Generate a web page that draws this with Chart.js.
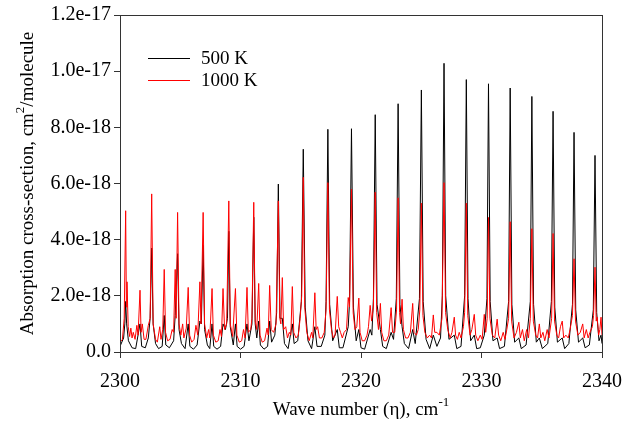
<!DOCTYPE html>
<html>
<head>
<meta charset="utf-8">
<script src="https://cdn.jsdelivr.net/npm/chart.js@4.4.1/dist/chart.umd.min.js"></script>
<style>
  html, body { margin: 0; padding: 0; background: #fff; }
  canvas { display: block; }
</style>
</head>
<body>
<canvas id="spectrum" width="634" height="425"></canvas>
<script>
// Values in units of 1e-18 cm2/molecule
const seriesNames = ["500 K", "1000 K"];
const seriesColors = ["#000000", "#ff0000"];
const xTicks = [2300, 2310, 2320, 2330, 2340];
const yTicks = [0, 2, 4, 6, 8, 10, 12];
const yTickLabels = ["0.0", "2.0e-18", "4.0e-18", "6.0e-18", "8.0e-18", "1.0e-17", "1.2e-17"];

// 500 K (black)
const wave500 = [
  2300.0, 2300.3, 2300.4, 2300.47, 2300.55, 2300.7, 2301.0, 2301.3, 2301.66, 2301.8,
  2302.1, 2302.35, 2302.5, 2302.63, 2302.75, 2302.95, 2303.2, 2303.5, 2303.67, 2303.8,
  2304.1, 2304.45, 2304.58, 2304.78, 2304.9, 2305.1, 2305.4, 2305.66, 2305.8, 2306.1,
  2306.4, 2306.63, 2306.75, 2306.9, 2307.02, 2307.25, 2307.45, 2307.64, 2307.78, 2308.05,
  2308.35, 2308.55, 2308.75, 2308.92, 2309.03, 2309.15, 2309.4, 2309.58, 2309.72, 2310.0,
  2310.3, 2310.54, 2310.7, 2310.95, 2311.1, 2311.22, 2311.35, 2311.51, 2311.65, 2311.95,
  2312.25, 2312.42, 2312.58, 2312.85, 2313.0, 2313.14, 2313.28, 2313.47, 2313.65, 2313.95,
  2314.3, 2314.45, 2314.75, 2315.05, 2315.21, 2315.37, 2315.6, 2315.9, 2316.17, 2316.35,
  2316.7, 2317.0, 2317.1, 2317.25, 2317.4, 2317.65, 2318.03, 2318.2, 2318.5, 2318.94,
  2319.05, 2319.21, 2319.37, 2319.6, 2319.82, 2320.0, 2320.3, 2320.76, 2320.9, 2321.03,
  2321.18, 2321.33, 2321.61, 2321.8, 2322.1, 2322.5, 2322.7, 2322.93, 2323.08, 2323.23,
  2323.41, 2323.6, 2323.95, 2324.29, 2324.5, 2324.85, 2325.01, 2325.16, 2325.4, 2325.7,
  2326.0, 2326.3, 2326.6, 2326.75, 2326.89, 2327.03, 2327.3, 2327.74, 2327.95, 2328.3,
  2328.6, 2328.74, 2328.88, 2329.1, 2329.4, 2329.6, 2329.9, 2330.23, 2330.45, 2330.58,
  2330.72, 2330.95, 2331.3, 2331.5, 2331.9, 2332.25, 2332.38, 2332.52, 2332.75, 2333.1,
  2333.3, 2333.7, 2334.05, 2334.18, 2334.32, 2334.55, 2334.8, 2335.05, 2335.5, 2335.8,
  2335.94, 2336.08, 2336.3, 2336.7, 2336.9, 2337.25, 2337.55, 2337.68, 2337.82, 2338.05,
  2338.4, 2338.6, 2338.95, 2339.28, 2339.42, 2339.56, 2339.75, 2339.92, 2340.0
];
const sigma500 = [
  0.2, 0.5, 1.0, 1.8, 1.0, 0.4, 0.15, 0.12, 1.0, 0.2,
  0.15, 0.5, 1.2, 3.7, 1.0, 0.3, 0.12, 0.2, 1.3, 0.25,
  0.15, 0.4, 1.3, 3.5, 0.8, 0.3, 0.12, 1.0, 0.2, 0.1,
  0.25, 1.1, 1.0, 3.8, 0.8, 0.25, 0.12, 1.0, 0.2, 0.1,
  0.2, 1.0, 0.8, 1.2, 4.3, 0.9, 0.25, 1.0, 0.2, 0.1,
  0.2, 1.0, 0.4, 1.0, 4.8, 1.0, 0.5, 1.1, 0.25, 0.1,
  0.2, 1.1, 0.35, 0.6, 1.4, 5.98, 1.2, 1.2, 0.3, 0.12,
  1.0, 0.3, 0.4, 1.8, 7.22, 1.6, 0.4, 0.12, 0.9, 0.2,
  0.2, 0.6, 1.8, 7.93, 1.7, 0.4, 0.8, 0.15, 0.15, 0.9,
  1.8, 7.95, 1.6, 0.4, 0.8, 0.15, 0.1, 0.8, 0.6, 1.9,
  8.45, 1.7, 0.8, 0.2, 0.12, 0.7, 0.45, 1.9, 8.84, 1.7,
  0.9, 0.3, 0.12, 0.8, 0.3, 1.9, 9.33, 1.8, 0.45, 0.12,
  0.6, 0.2, 0.5, 2.0, 10.28, 2.0, 0.45, 0.6, 0.12, 0.2,
  2.0, 9.7, 1.9, 0.4, 0.6, 0.12, 0.15, 0.6, 1.9, 9.55,
  1.8, 0.4, 0.5, 0.12, 0.2, 1.8, 9.4, 1.7, 0.35, 0.5,
  0.12, 0.25, 1.8, 9.1, 1.7, 0.35, 0.5, 0.12, 0.3, 1.8,
  8.57, 1.6, 0.35, 0.5, 0.12, 0.3, 1.7, 7.82, 1.5, 0.35,
  0.5, 0.15, 0.25, 1.5, 7.0, 1.4, 0.4, 0.6, 0.3
];

// 1000 K (red)
const wave1000 = [
  2300.0, 2300.2, 2300.35, 2300.47, 2300.53, 2300.58, 2300.68, 2300.8, 2300.9, 2301.0,
  2301.1, 2301.25, 2301.4, 2301.5, 2301.66, 2301.75, 2301.85, 2302.0, 2302.15, 2302.35,
  2302.5, 2302.63, 2302.75, 2302.95, 2303.1, 2303.3, 2303.4, 2303.55, 2303.67, 2303.78,
  2303.95, 2304.15, 2304.33, 2304.45, 2304.58, 2304.66, 2304.78, 2304.9, 2305.05, 2305.2,
  2305.3, 2305.5, 2305.66, 2305.78, 2305.95, 2306.15, 2306.3, 2306.45, 2306.63, 2306.72,
  2306.9, 2307.02, 2307.2, 2307.35, 2307.45, 2307.64, 2307.75, 2307.95, 2308.15, 2308.3,
  2308.42, 2308.55, 2308.68, 2308.85, 2309.03, 2309.15, 2309.35, 2309.58, 2309.7, 2309.9,
  2310.1, 2310.25, 2310.38, 2310.54, 2310.65, 2310.85, 2310.95, 2311.1, 2311.22, 2311.35,
  2311.51, 2311.62, 2311.8, 2312.0, 2312.2, 2312.3, 2312.42, 2312.55, 2312.75, 2312.95,
  2313.14, 2313.26, 2313.35, 2313.47, 2313.58, 2313.75, 2313.9, 2314.05, 2314.18, 2314.3,
  2314.42, 2314.6, 2314.8, 2314.95, 2315.08, 2315.21, 2315.33, 2315.5, 2315.7, 2315.9,
  2316.0, 2316.17, 2316.28, 2316.4, 2316.55, 2316.75, 2316.95, 2317.1, 2317.25, 2317.38,
  2317.55, 2317.7, 2317.85, 2318.03, 2318.15, 2318.3, 2318.45, 2318.6, 2318.8, 2318.94,
  2319.05, 2319.21, 2319.35, 2319.5, 2319.65, 2319.82, 2319.92, 2320.1, 2320.3, 2320.5,
  2320.62, 2320.76, 2320.88, 2321.03, 2321.18, 2321.3, 2321.45, 2321.61, 2321.72, 2321.9,
  2322.1, 2322.3, 2322.5, 2322.62, 2322.8, 2322.95, 2323.08, 2323.2, 2323.28, 2323.41,
  2323.52, 2323.7, 2323.9, 2324.1, 2324.29, 2324.4, 2324.6, 2324.75, 2324.88, 2325.01,
  2325.14, 2325.3, 2325.5, 2325.7, 2325.85, 2326.0, 2326.12, 2326.3, 2326.5, 2326.72,
  2326.89, 2327.02, 2327.2, 2327.4, 2327.55, 2327.74, 2327.85, 2328.0, 2328.15, 2328.3,
  2328.5, 2328.6, 2328.74, 2328.86, 2329.05, 2329.2, 2329.4, 2329.52, 2329.7, 2329.9,
  2330.05, 2330.23, 2330.35, 2330.47, 2330.58, 2330.7, 2330.9, 2331.1, 2331.3, 2331.42,
  2331.6, 2331.8, 2331.95, 2332.1, 2332.25, 2332.38, 2332.5, 2332.7, 2332.9, 2333.1,
  2333.22, 2333.4, 2333.55, 2333.75, 2333.9, 2334.05, 2334.18, 2334.3, 2334.5, 2334.65,
  2334.8, 2334.92, 2335.1, 2335.25, 2335.45, 2335.6, 2335.82, 2335.94, 2336.06, 2336.25,
  2336.4, 2336.55, 2336.7, 2336.82, 2337.0, 2337.2, 2337.35, 2337.55, 2337.68, 2337.8,
  2338.0, 2338.2, 2338.4, 2338.52, 2338.7, 2338.85, 2339.0, 2339.2, 2339.3, 2339.42,
  2339.52, 2339.6, 2339.72, 2339.82, 2339.92, 2340.0
];
const sigma1000 = [
  0.35, 0.45, 1.2, 5.03, 1.6, 2.5, 0.9, 0.55, 0.85, 0.5,
  0.7, 0.45, 0.95, 0.6, 2.2, 0.7, 1.0, 0.45, 0.45, 0.95,
  1.2, 5.63, 1.0, 0.45, 0.35, 0.9, 0.45, 0.8, 2.94, 0.7,
  0.4, 0.45, 0.8, 0.7, 2.94, 1.2, 4.97, 1.0, 0.6, 1.0,
  0.5, 0.85, 2.3, 0.6, 0.35, 0.45, 0.95, 0.6, 2.5, 1.0,
  4.97, 1.0, 0.5, 0.8, 0.5, 2.26, 0.6, 0.35, 0.4, 0.8,
  0.55, 2.26, 0.8, 1.0, 5.38, 1.0, 0.55, 2.26, 0.6, 0.35,
  0.4, 0.8, 0.5, 2.3, 0.7, 0.8, 1.2, 5.33, 1.1, 0.8,
  2.44, 0.6, 0.35, 0.4, 0.85, 0.6, 2.37, 0.8, 0.7, 1.0,
  5.38, 1.2, 1.0, 2.65, 0.8, 0.9, 0.5, 0.7, 0.6, 2.33,
  0.7, 0.5, 0.6, 1.2, 2.0, 6.22, 1.6, 0.7, 0.4, 0.7,
  0.5, 2.11, 0.8, 0.9, 0.5, 0.5, 0.7, 1.5, 6.03, 1.5,
  0.8, 0.5, 0.6, 1.98, 0.9, 0.7, 0.5, 0.7, 0.8, 1.94,
  1.6, 5.8, 1.4, 0.8, 0.9, 1.92, 0.7, 0.4, 0.4, 0.6,
  0.9, 1.66, 1.1, 1.6, 5.69, 1.4, 0.8, 1.73, 0.7, 0.4,
  0.4, 0.6, 1.58, 0.7, 0.7, 1.5, 5.49, 1.4, 1.0, 1.88,
  0.8, 0.5, 0.5, 0.7, 1.73, 0.7, 0.6, 0.8, 1.5, 5.3,
  1.3, 0.7, 0.5, 0.6, 0.5, 1.32, 0.7, 0.7, 0.6, 1.2,
  6.03, 1.4, 0.8, 0.5, 0.7, 1.24, 0.6, 0.45, 0.7, 0.5,
  0.9, 1.4, 5.3, 1.3, 0.6, 0.8, 1.34, 0.6, 0.4, 0.6,
  0.45, 1.34, 0.7, 1.2, 4.79, 1.2, 0.6, 0.5, 1.17, 0.6,
  0.4, 0.7, 0.45, 0.8, 1.2, 4.64, 1.1, 0.5, 0.7, 1.06,
  0.5, 0.8, 0.4, 0.8, 0.5, 1.2, 4.39, 1.1, 0.6, 0.5,
  1.0, 0.5, 0.7, 0.4, 0.8, 0.5, 1.2, 4.22, 1.1, 0.6,
  0.5, 0.9, 1.1, 0.5, 0.6, 0.5, 0.8, 1.3, 3.32, 1.1,
  0.6, 0.7, 1.0, 0.5, 0.8, 0.5, 0.7, 0.9, 1.3, 3.02,
  1.1, 1.24, 0.6, 0.8, 1.24, 0.6
];

const FONT = "'Liberation Serif', 'Times New Roman', serif";
const AXIS_COLOR = "#333333";

function toPoints(xs, ys) {
  return xs.map((x, i) => ({ x: x, y: ys[i] }));
}

// frame on top and right, legend inside the plot, titles with superscripts
const decorations = {
  id: "decorations",
  afterDatasetsDraw(chart) {
    const { ctx, chartArea: a } = chart;
    ctx.save();
    ctx.strokeStyle = AXIS_COLOR;
    ctx.lineWidth = 1;
    ctx.strokeRect(a.left + 0.5, a.top + 0.5, a.right - a.left, a.bottom - a.top);

    // legend
    ctx.font = "19px " + FONT;
    ctx.textBaseline = "middle";
    ctx.textAlign = "left";
    seriesNames.forEach((name, i) => {
      const y = Math.round(a.top + 43 + i * 22);
      ctx.strokeStyle = seriesColors[i];
      ctx.lineWidth = 1;
      ctx.beginPath();
      ctx.moveTo(a.left + 28, y + 0.5);
      ctx.lineTo(a.left + 70, y + 0.5);
      ctx.stroke();
      ctx.fillStyle = "#000";
      ctx.fillText(name, a.left + 81, y + 1);
    });
    ctx.restore();
  },
  afterDraw(chart) {
    const { ctx, chartArea: a } = chart;
    ctx.save();
    ctx.fillStyle = "#000";
    ctx.textBaseline = "alphabetic";

    // x title
    const xMain = "Wave number (\u03b7), cm";
    const xSup = "-1";
    ctx.font = "19px " + FONT;
    const w1 = ctx.measureText(xMain).width;
    ctx.font = "13px " + FONT;
    const w2 = ctx.measureText(xSup).width;
    let x0 = (a.left + a.right) / 2 - (w1 + w2) / 2;
    ctx.font = "19px " + FONT;
    ctx.fillText(xMain, x0, 415);
    ctx.font = "13px " + FONT;
    ctx.fillText(xSup, x0 + w1, 406);

    // y title
    const yA = "Absorption cross-section, cm";
    const yS = "2";
    const yB = "/molecule";
    ctx.translate(33, (a.top + a.bottom) / 2);
    ctx.rotate(-Math.PI / 2);
    ctx.font = "19px " + FONT;
    const wa = ctx.measureText(yA).width;
    const wb = ctx.measureText(yB).width;
    ctx.font = "13px " + FONT;
    const ws = ctx.measureText(yS).width;
    let s = -(wa + ws + wb) / 2;
    ctx.font = "19px " + FONT;
    ctx.fillText(yA, s, 0);
    ctx.font = "13px " + FONT;
    ctx.fillText(yS, s + wa, -9);
    ctx.font = "19px " + FONT;
    ctx.fillText(yB, s + wa + ws, 0);
    ctx.restore();
  }
};

new Chart(document.getElementById("spectrum"), {
  type: "line",
  data: {
    datasets: [
      {
        label: seriesNames[0],
        data: toPoints(wave500, sigma500),
        borderColor: seriesColors[0],
        borderWidth: 1,
        pointRadius: 0,
        tension: 0,
        order: 1
      },
      {
        label: seriesNames[1],
        data: toPoints(wave1000, sigma1000),
        borderColor: seriesColors[1],
        borderWidth: 1,
        pointRadius: 0,
        tension: 0,
        order: 0
      }
    ]
  },
  options: {
    responsive: false,
    animation: false,
    devicePixelRatio: 1,
    layout: { padding: { left: 0, right: 31, top: 14, bottom: 0 } },
    plugins: {
      legend: { display: false },
      tooltip: { enabled: false }
    },
    scales: {
      x: {
        type: "linear",
        min: xTicks[0],
        max: xTicks[xTicks.length - 1],
        afterBuildTicks: (scale) => { scale.ticks = xTicks.map(v => ({ value: v })); },
        afterFit: (scale) => { scale.height = 73; },
        ticks: {
          color: "#000",
          font: { family: FONT, size: 20 },
          padding: 12,
          maxRotation: 0,
          callback: (v) => String(v)
        },
        grid: { drawOnChartArea: false, drawTicks: true, tickLength: 6, color: AXIS_COLOR },
        border: { color: AXIS_COLOR }
      },
      y: {
        min: yTicks[0],
        max: yTicks[yTicks.length - 1],
        afterBuildTicks: (scale) => { scale.ticks = yTicks.map(v => ({ value: v })); },
        afterFit: (scale) => { scale.width = 120; },
        ticks: {
          color: "#000",
          font: { family: FONT, size: 20 },
          padding: 3,
          callback: (v, i) => yTickLabels[i]
        },
        grid: { drawOnChartArea: false, drawTicks: true, tickLength: 6, color: AXIS_COLOR },
        border: { color: AXIS_COLOR }
      }
    }
  },
  plugins: [decorations]
});
</script>
</body>
</html>
